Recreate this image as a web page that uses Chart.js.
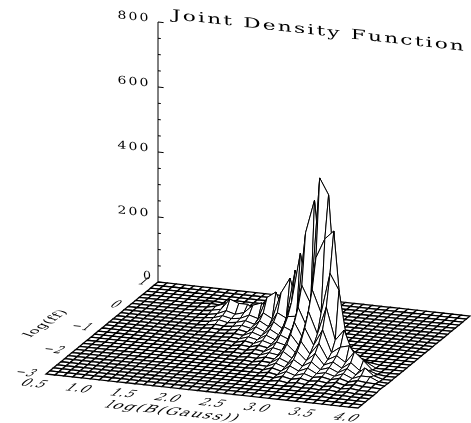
<!DOCTYPE html>
<html>
<head>
<meta charset="utf-8">
<title>Joint Density Function</title>
<script src="https://cdn.jsdelivr.net/npm/chart.js@4"></script>
<style>
  html, body { margin: 0; padding: 0; background: #fff; }
  canvas { display: block; }
</style>
</head>
<body>
<canvas id="surface" width="471" height="423"></canvas>
<script>
// Axis ticks
const xTicks = [0.5, 1.0, 1.5, 2.0, 2.5, 3.0, 3.5, 4.0];
const yTicks = [1, 0, -1, -2, -3];
const zTicks = [0, 200, 400, 600, 800];
const zMinorStep = 50;

// Mesh size: 35 cells along log(B), 30 cells along log(ff)
const xCells = 35;
const yCells = 30;

// Density, one list per log(B) column.
// columnStart is the first mesh row that is above the floor in that column.
const columnStart = [0, 0, 0, 0, 0, 0, 0, 4, 4, 5, 4, 5, 5, 5, 6, 6, 7, 7, 8, 8, 9, 10, 11, 11, 12, 12, 13, 14, 15, 16, 17, 17, 19, 20, 22, 23];
const columnValues = [
  [], [], [], [], [], [], [],
  [1, 3, 2, 1],
  [2, 5, 3, 2, 1],
  [3, 9, 6, 3, 2, 1],
  [1, 6, 20, 12, 8, 5, 3, 2, 1],
  [2, 14, 46, 20, 14, 11, 6, 4, 2, 1],
  [3, 12, 36, 12, 8, 5, 4, 3, 2, 1],
  [2, 10, 36, 20, 12, 9, 6, 4, 3, 2, 1],
  [4, 14, 46, 25, 17, 12, 9, 6, 4, 3, 2, 1],
  [5, 18, 56, 17, 9, 6, 4, 3, 2, 1],
  [7, 26, 85, 47, 32, 23, 16, 11, 8, 5, 3, 2, 1],
  [9, 32, 105, 32, 17, 11, 7, 5, 3, 2, 1],
  [9, 35, 115, 63, 44, 31, 22, 15, 10, 7, 5, 3, 2, 1],
  [13, 50, 163, 49, 26, 16, 11, 7, 5, 3, 2, 1],
  [16, 60, 200, 110, 76, 54, 38, 26, 18, 12, 8, 5, 3, 2],
  [20, 80, 265, 80, 42, 27, 19, 12, 8, 5, 3, 1],
  [25, 100, 340, 187, 129, 92, 65, 44, 31, 20, 14, 9, 5, 3],
  [32, 130, 443, 133, 71, 44, 31, 20, 13, 9, 4, 2],
  [40, 160, 524, 288, 199, 141, 100, 68, 47, 31, 21, 13, 8, 4],
  [10, 110, 475, 349, 130, 75, 50, 32, 21, 14, 8, 4, 2],
  [8, 90, 376, 255, 160, 100, 68, 46, 30, 20, 13, 8, 4, 2],
  [18, 70, 206, 62, 33, 21, 14, 9, 6, 4, 2, 1],
  [10, 34, 96, 53, 36, 26, 18, 12, 9, 6, 4, 2, 1],
  [8, 26, 60, 18, 10, 6, 4, 3, 2, 1],
  [8, 22, 54, 30, 21, 15, 10, 7, 5, 3, 2, 1],
  [4, 14, 30, 9, 5, 3, 2, 1],
  [4, 12, 29, 14, 9, 6, 4, 2, 1],
  [3, 8, 14, 6, 3, 1],
  [2, 5, 3, 1],
  [1, 2]
];

function density(i, j) {
  const k = j - columnStart[i];
  const v = columnValues[i][k];
  return v === undefined ? 0 : v;
}

// View of the box: fractions along log(B) and log(ff), height in density units
function project(u, v, z) {
  return { x: 158 + 312 * u - 112 * v, y: 282 + 34 * u + 92 * v - 0.325 * z };
}

const datasets = [];

// Mesh cells, nearest first because Chart.js paints the first dataset last
for (let j = yCells - 1; j >= 0; j--) {
  for (let i = xCells - 1; i >= 0; i--) {
    const corner = (a, b) => project(a / xCells, b / yCells, density(a, b));
    const tallest = Math.max(density(i, j), density(i + 1, j), density(i + 1, j + 1), density(i, j + 1));
    datasets.push({
      data: [corner(i, j), corner(i + 1, j), corner(i + 1, j + 1), corner(i, j + 1), corner(i, j)],
      borderColor: '#000',
      backgroundColor: '#fff',
      borderWidth: tallest > 10 ? 1 : 1.3,
      fill: 'shape',
      showLine: true,
      pointRadius: 0,
      tension: 0,
      clip: false
    });
  }
}

// Height axis with its ticks, behind the mesh
function axisLine(points) {
  datasets.push({
    data: points,
    borderColor: '#000',
    borderWidth: 1,
    showLine: true,
    fill: false,
    pointRadius: 0,
    clip: false
  });
}
axisLine([project(0, 0, zTicks[0]), project(0, 0, zTicks[zTicks.length - 1])]);
for (let z = zTicks[0]; z <= zTicks[zTicks.length - 1]; z += zMinorStep) {
  const len = zTicks.includes(z) ? 0.018 : 0.009;
  axisLine([project(0, 0, z), project(len, 0, z)]);
}

// Text lying in the planes of the box: base and up are the sheared text axes
function planeText(ctx, text, cx, cy, base, up, spacing) {
  ctx.save();
  ctx.font = '20px "DejaVu Serif"';
  ctx.letterSpacing = (spacing || 0) + 'px';
  ctx.textBaseline = 'alphabetic';
  ctx.fillStyle = '#000';
  const w = ctx.measureText(text).width;
  const cap = 14.6;
  ctx.transform(base[0] / w, base[1] / w, -up[0] / cap, -up[1] / cap,
    cx - base[0] / 2 - up[0] / 2, cy - base[1] / 2 - up[1] / 2);
  ctx.fillText(text, 0, 0);
  ctx.restore();
}

const boxText = {
  id: 'boxText',
  afterDraw(chart) {
    const ctx = chart.ctx;
    const floorUp = [8, -7];

    xTicks.forEach(t => {
      const p = project((t - xTicks[0]) / (xTicks[xTicks.length - 1] - xTicks[0]), 1, 0);
      planeText(ctx, t.toFixed(1), p.x - 11, p.y + 9, [24, 2.6], floorUp, 1);
    });

    yTicks.forEach(t => {
      const p = project(0, (yTicks[0] - t) / (yTicks[0] - yTicks[yTicks.length - 1]), 0);
      const label = t < 0 ? '\u2212' + (-t) : String(t);
      if (t < 0) {
        planeText(ctx, label, p.x - 19, p.y - 2, [20, 2.2], floorUp, 3);
      } else {
        planeText(ctx, label, p.x - 13.5, p.y - 1, [7.5, 0.8], floorUp, 0);
      }
    });

    zTicks.forEach(t => {
      const p = project(0, 0, t);
      if (t === 0) {
        planeText(ctx, String(t), p.x - 11, p.y - 7, [8, 0.9], [0, -8], 0);
      } else {
        planeText(ctx, String(t), p.x - 24, p.y - 6, [33, 3.6], [0, -8], 3);
      }
    });

    planeText(ctx, 'Joint Density Function', 319, 30, [294, 32], [0, -10], 2);
    planeText(ctx, 'log(B(Gauss))', 174, 411, [132, 14.4], [8, -7], 2);
    planeText(ctx, 'log(ff)', 45, 323, [38, -26], [-9, -3], 1);
  }
};

new Chart(document.getElementById('surface'), {
  type: 'scatter',
  data: { datasets: datasets },
  options: {
    responsive: false,
    animation: false,
    events: [],
    layout: { padding: 0 },
    plugins: { legend: { display: false }, tooltip: { enabled: false } },
    scales: {
      x: { type: 'linear', min: 0, max: 471, display: false },
      y: { type: 'linear', min: 0, max: 423, reverse: true, display: false }
    }
  },
  plugins: [boxText]
});
</script>
</body>
</html>
